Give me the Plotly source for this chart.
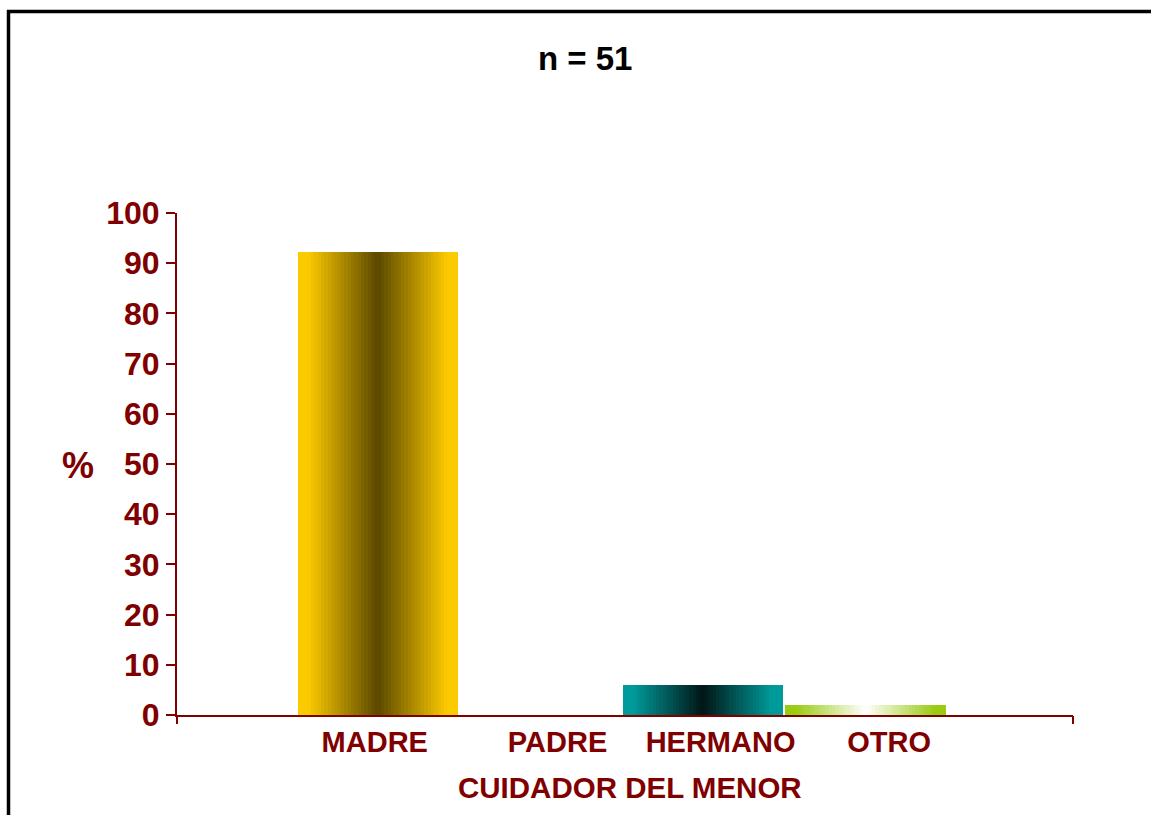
import plotly.graph_objects as go

# Data: who looks after the child (n = 51), in percent
categorias = ["MADRE", "PADRE", "HERMANO", "OTRO"]
porcentajes = [92.2, 0.0, 5.9, 2.0]
y_ticks = [0, 10, 20, 30, 40, 50, 60, 70, 80, 90, 100]

# Edge and centre colours of each bar's horizontal gradient
colores_borde = ["#FCCA00", "#3366CC", "#009A9A", "#99CC11"]
colores_centro = ["#5A4800", "#0A1A40", "#021616", "#FFFFFF"]

ROJO = "#800000"
FUENTE = "Liberation Sans, Arial, sans-serif"

ANCHO_BARRA = 0.985
N_FRANJAS = 48


def hex_rgb(h):
    h = h.lstrip("#")
    return tuple(int(h[i:i + 2], 16) for i in (0, 2, 4))


def mezcla(c1, c2, t):
    a, b = hex_rgb(c1), hex_rgb(c2)
    return "rgb({},{},{})".format(*[round(a[i] + (b[i] - a[i]) * t) for i in range(3)])


fig = go.Figure()

# Each bar is built from thin vertical strips of the same height,
# shaded from the edge colour to the centre colour and back.
paso = ANCHO_BARRA / N_FRANJAS
for i, (cat, val) in enumerate(zip(categorias, porcentajes)):
    xs, cols = [], []
    for k in range(N_FRANJAS):
        pos = (k + 0.5) / N_FRANJAS
        t = min(1.0, abs(pos - 0.5) * 2 * 1.15)  # 0 at centre, 1 at edge
        xs.append(i - ANCHO_BARRA / 2 + (k + 0.5) * paso)
        cols.append(mezcla(colores_centro[i], colores_borde[i], t))
    fig.add_trace(go.Bar(
        x=xs, y=[val] * N_FRANJAS, width=paso * 1.15,
        marker=dict(color=cols, line=dict(width=0)),
        name=cat, showlegend=False, hoverinfo="skip",
    ))

x_rango = [-1.237, 4.277]
desplaz_etiqueta = [-0.02, 0.105, 0.108, 0.145]

fig.update_layout(
    width=1151, height=815,
    margin=dict(l=177, r=78, t=213, b=100),
    paper_bgcolor="white", plot_bgcolor="white",
    barmode="overlay", bargap=0,
    font=dict(family=FUENTE, color=ROJO),
    xaxis=dict(
        range=x_rango, showgrid=False, zeroline=False,
        showline=True, linecolor=ROJO, linewidth=2,
        ticks="",
        tickvals=[i + d for i, d in enumerate(desplaz_etiqueta)],
        ticktext=categorias,
        tickfont=dict(family=FUENTE, size=29, color=ROJO, weight="bold"),
    ),
    xaxis2=dict(
        overlaying="x", anchor="y", side="bottom", range=x_rango,
        showgrid=False, zeroline=False, showline=False,
        tickvals=x_rango, ticks="outside", ticklen=8, tickwidth=2,
        tickcolor=ROJO, showticklabels=False,
    ),
    yaxis=dict(
        range=[0, 100], tickvals=y_ticks, showgrid=False, zeroline=False,
        showline=True, linecolor=ROJO, linewidth=2,
        ticks="outside", ticklen=9, tickwidth=2, tickcolor=ROJO,
        tickfont=dict(family=FUENTE, size=32, color=ROJO, weight="bold"),
    ),
    annotations=[
        dict(text="n = 51", xref="paper", yref="paper", x=0.455, y=1.307,
             xanchor="center", yanchor="middle", showarrow=False,
             font=dict(family=FUENTE, size=33, color="black", weight="bold")),
        dict(text="CUIDADOR DEL MENOR", xref="paper", yref="paper",
             x=0.5056, y=-0.1454, xanchor="center", yanchor="middle",
             showarrow=False,
             font=dict(family=FUENTE, size=29.5, color=ROJO, weight="bold")),
        dict(text="%", xref="paper", yref="paper", x=-0.1105, y=0.498,
             xanchor="center", yanchor="middle", showarrow=False,
             font=dict(family=FUENTE, size=36, color=ROJO, weight="bold")),
    ],
    shapes=[
        # outer frame: top and left edges
        dict(type="line", xref="paper", yref="paper",
             x0=(7 - 177) / 896, x1=(1151 - 177) / 896,
             y0=(715 - 11.5) / 502, y1=(715 - 11.5) / 502,
             line=dict(color="black", width=3.5)),
        dict(type="line", xref="paper", yref="paper",
             x0=(8.5 - 177) / 896, x1=(8.5 - 177) / 896,
             y0=(715 - 10) / 502, y1=(715 - 815) / 502,
             line=dict(color="black", width=3.5)),
    ],
)

# empty trace so the secondary x axis (end tick marks) is rendered
fig.add_trace(go.Scatter(x=[None], y=[None], xaxis="x2", showlegend=False,
                         hoverinfo="skip"))

fig.write_html("out.html")
